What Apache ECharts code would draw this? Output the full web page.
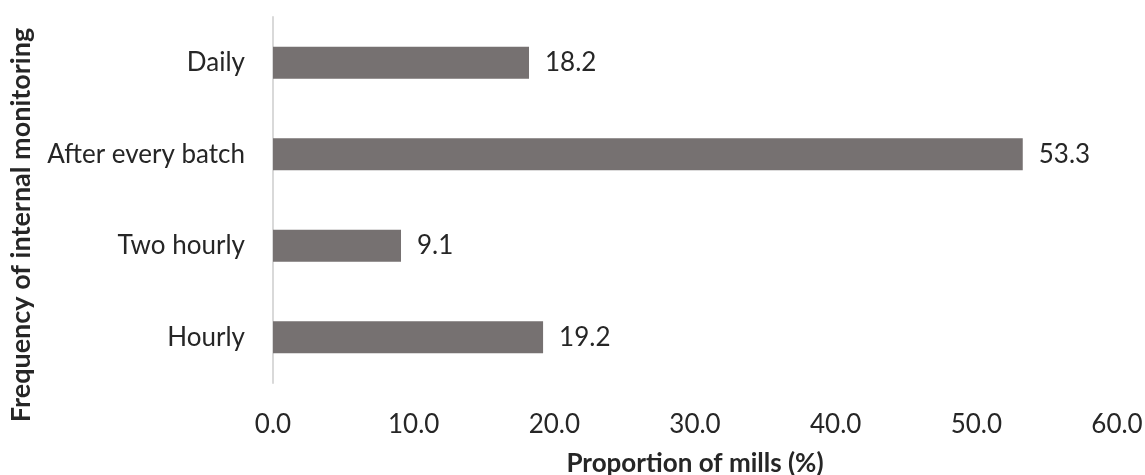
<!DOCTYPE html>
<html>
<head>
<meta charset="utf-8">
<script src="https://cdn.jsdelivr.net/npm/echarts@6/dist/echarts.min.js"></script>
<style>
  html, body { margin: 0; padding: 0; background: #fff; }
  #chart { width: 1145px; height: 475px; }
</style>
</head>
<body>
<div id="chart"></div>
<script>
// Monitoring frequency categories, listed bottom to top
const categories = ['Hourly', 'Two hourly', 'After every batch', 'Daily'];
// Share of mills for each category (%)
const proportions = [19.2, 9.1, 53.3, 18.2];
// Value axis range
const xMin = 0;
const xMax = 60;
const xStep = 10;

const FONT = 'Lato, "Open Sans", sans-serif';
const TEXT = '#262626';

const chart = echarts.init(document.getElementById('chart'), null, { renderer: 'canvas' });
chart.setOption({
  animation: false,
  backgroundColor: '#ffffff',
  grid: {
    left: 273, right: 28, top: 17, bottom: 92,
    containLabel: false,
    outerBoundsMode: 'none'
  },
  xAxis: {
    type: 'value',
    min: xMin,
    max: xMax,
    interval: xStep,
    name: 'Proportion of mills (%)',
    nameLocation: 'middle',
    nameGap: 68,
    nameTextStyle: { fontFamily: FONT, fontSize: 26, fontWeight: 'bold', color: TEXT },
    axisLine: { show: false },
    axisTick: { show: false },
    splitLine: { show: false },
    axisLabel: {
      margin: 29,
      fontFamily: FONT, fontSize: 26, color: TEXT,
      formatter: v => v.toFixed(1)
    }
  },
  yAxis: {
    type: 'category',
    data: categories,
    name: 'Frequency of internal monitoring',
    nameLocation: 'middle',
    nameGap: 238,
    nameTextStyle: {
      fontFamily: FONT, fontSize: 27, fontWeight: 'bold', color: TEXT,
      // nudge the rotated title a little below the axis centre
      padding: [0, 50, 0, 0]
    },
    axisLine: { show: true, lineStyle: { color: '#d9d9d9', width: 2 } },
    axisTick: { show: false },
    splitLine: { show: false },
    axisLabel: { margin: 28, fontFamily: FONT, fontSize: 26, color: TEXT }
  },
  series: [{
    type: 'bar',
    data: proportions,
    barWidth: 32,
    itemStyle: { color: '#767171' },
    label: {
      show: true,
      position: 'right',
      distance: 16,
      fontFamily: FONT, fontSize: 26, color: TEXT,
      formatter: p => p.value.toFixed(1)
    }
  }]
});
</script>
</body>
</html>
